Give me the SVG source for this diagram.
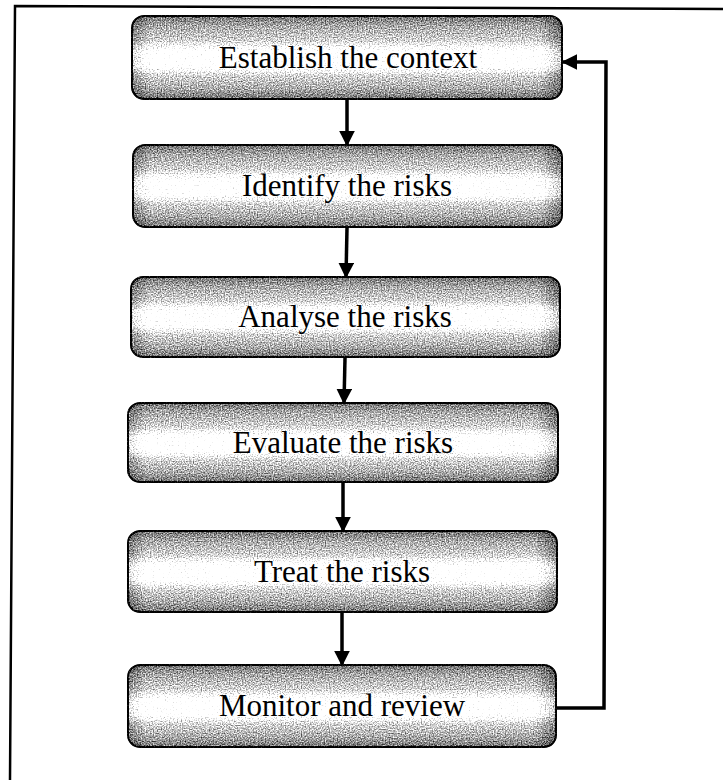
<svg xmlns="http://www.w3.org/2000/svg" width="723" height="780" viewBox="0 0 723 780">
  <defs>
    <style>
      .box { fill: url(#vshade); stroke: #1a1a1a; stroke-width: 2; }
      .edge { fill: url(#hshade); stroke: none; }
      .shade { filter: url(#grain); }
      .label { font-family: "Liberation Serif", "Times New Roman", serif; font-size: 31px; fill: #000; text-anchor: middle; }
      .conn { fill: none; stroke: #000; stroke-width: 3.5; }
    </style>
    <linearGradient id="vshade" x1="0" y1="0" x2="0" y2="1">
      <stop offset="0" stop-color="#777"/>
      <stop offset="0.12" stop-color="#9a9a9a"/>
      <stop offset="0.3" stop-color="#b6b6b6"/>
      <stop offset="0.43" stop-color="#f6f6f6"/>
      <stop offset="0.6" stop-color="#f6f6f6"/>
      <stop offset="0.72" stop-color="#b6b6b6"/>
      <stop offset="0.88" stop-color="#9a9a9a"/>
      <stop offset="1" stop-color="#777"/>
    </linearGradient>
    <linearGradient id="hshade" x1="0" y1="0" x2="1" y2="0">
      <stop offset="0" stop-color="#000" stop-opacity="0.22"/>
      <stop offset="0.04" stop-color="#000" stop-opacity="0"/>
      <stop offset="0.95" stop-color="#000" stop-opacity="0"/>
      <stop offset="1" stop-color="#000" stop-opacity="0.28"/>
    </linearGradient>
    <!-- dithered print texture: add noise to the shade, then push each pixel toward black or white -->
    <filter id="grain" x="-2%" y="-5%" width="104%" height="110%" color-interpolation-filters="sRGB">
      <feTurbulence type="fractalNoise" baseFrequency="0.75" numOctaves="1" seed="11" result="noise"/>
      <feColorMatrix in="noise" type="matrix" values="1 0 0 0 0  1 0 0 0 0  1 0 0 0 0  0 0 0 0 1" result="gray"/>
      <feComposite in="SourceGraphic" in2="gray" operator="arithmetic" k1="0" k2="1" k3="0.9" k4="-0.45" result="sum"/>
      <feComponentTransfer in="sum" result="dith">
        <feFuncR type="linear" slope="1.6" intercept="-0.3"/>
        <feFuncG type="linear" slope="1.6" intercept="-0.3"/>
        <feFuncB type="linear" slope="1.6" intercept="-0.3"/>
      </feComponentTransfer>
      <feComposite in="dith" in2="SourceGraphic" operator="in"/>
    </filter>
    <marker id="arrow" viewBox="0 0 10 10" refX="9" refY="5" markerWidth="4.5" markerHeight="4.5" orient="auto" markerUnits="strokeWidth">
      <path d="M0,0 L10,5 L0,10 z" fill="#000"/>
    </marker>
  </defs>

  <rect width="723" height="780" fill="#fff"/>

  <!-- page frame (only top and left edges fall inside the view) -->
  <path d="M 10 780 L 15 6 L 723 9" fill="none" stroke="#000" stroke-width="2.5"/>

  <g id="connectors">
    <line class="conn" x1="347" y1="100" x2="347" y2="145" marker-end="url(#arrow)"/>
    <line class="conn" x1="347" y1="228" x2="346" y2="277" marker-end="url(#arrow)"/>
    <line class="conn" x1="345" y1="358" x2="344" y2="403" marker-end="url(#arrow)"/>
    <line class="conn" x1="343" y1="483" x2="343" y2="531" marker-end="url(#arrow)"/>
    <line class="conn" x1="342" y1="613" x2="342" y2="665" marker-end="url(#arrow)"/>
    <polyline class="conn" points="557,708 604,708 606,62 563,62" marker-end="url(#arrow)"/>
  </g>

  <g id="establish">
    <g class="shade">
      <rect class="box" x="132" y="16" width="430" height="83" rx="12"/>
      <rect class="edge" x="133" y="17" width="428" height="81" rx="11"/>
    </g>
    <text class="label" x="348" y="68">Establish the context</text>
  </g>
  <g id="identify">
    <g class="shade">
      <rect class="box" x="133" y="145" width="429" height="82" rx="12"/>
      <rect class="edge" x="134" y="146" width="427" height="80" rx="11"/>
    </g>
    <text class="label" x="347" y="196">Identify the risks</text>
  </g>
  <g id="analyse">
    <g class="shade">
      <rect class="box" x="131" y="277" width="429" height="80" rx="12"/>
      <rect class="edge" x="132" y="278" width="427" height="78" rx="11"/>
    </g>
    <text class="label" x="345" y="327">Analyse the risks</text>
  </g>
  <g id="evaluate">
    <g class="shade">
      <rect class="box" x="128" y="403" width="430" height="79" rx="12"/>
      <rect class="edge" x="129" y="404" width="428" height="77" rx="11"/>
    </g>
    <text class="label" x="343" y="453">Evaluate the risks</text>
  </g>
  <g id="treat">
    <g class="shade">
      <rect class="box" x="128" y="531" width="429" height="81" rx="12"/>
      <rect class="edge" x="129" y="532" width="427" height="79" rx="11"/>
    </g>
    <text class="label" x="342" y="582">Treat the risks</text>
  </g>
  <g id="monitor">
    <g class="shade">
      <rect class="box" x="128" y="665" width="428" height="82" rx="12"/>
      <rect class="edge" x="129" y="666" width="426" height="80" rx="11"/>
    </g>
    <text class="label" x="342" y="716">Monitor and review</text>
  </g>
</svg>
